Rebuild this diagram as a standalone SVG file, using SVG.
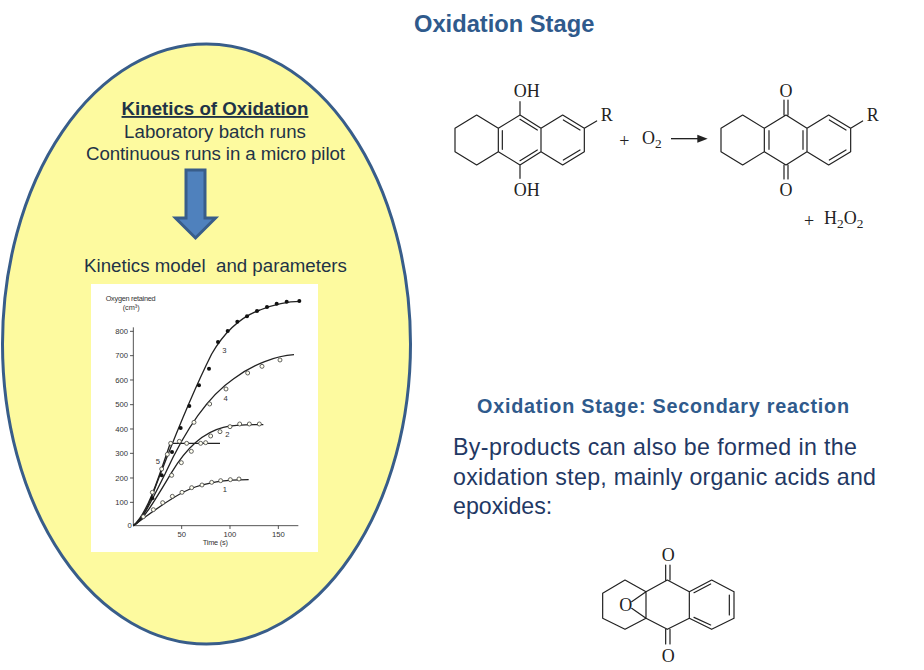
<svg xmlns="http://www.w3.org/2000/svg" width="924" height="670" viewBox="0 0 924 670">
<style>
text{font-family:"Liberation Sans",Arial,sans-serif}
.t{fill:#1f3347;font-size:18.700px;text-anchor:middle}
.h{fill:#2f5a8c;font-weight:bold}
.p text{fill:#1f3864;font-size:23.200px}
.b{fill:none;stroke:#222;stroke-width:3.6;stroke-linejoin:round;stroke-linecap:round}
.c text{font-family:"Liberation Serif","Times New Roman",serif;fill:#222;font-size:54px}
.c .m{text-anchor:middle}
.c .s{font-size:40px}
.cv{fill:none;stroke:#222;stroke-width:4}
.ax{fill:none;stroke:#333;stroke-width:2.5}
.o{fill:#fffff0;stroke:#444;stroke-width:2.5}
.f{fill:#111}
.g text{font-size:23px;fill:#333;text-anchor:end}
.n text{font-size:23px;fill:#333;text-anchor:middle}
.gl{font-size:22px;fill:#333}
</style>
<rect width="924" height="670" fill="#fff"/>
<text class="h" x="414" y="32" font-size="23.700">Oxidation Stage</text>
<g id="ellipse"><ellipse cx="206.500" cy="344" rx="204" ry="300" fill="#fdfa9f" stroke="#385d8a" stroke-width="3"/></g>
<g id="left-text">
<text class="t" x="215" y="115" font-weight="bold" text-decoration="underline">Kinetics of Oxidation</text>
<text class="t" x="215" y="138">Laboratory batch runs</text>
<text class="t" x="215.500" y="160" textLength="259">Continuous runs in a micro pilot</text>
<text class="t" x="215.500" y="272">Kinetics model&#160; and parameters</text>
</g>
<g id="down-arrow"><path d="M186 170H205V218H215.500L195.500 238L175.500 218H186Z" fill="#4f81bd" stroke="#385d8a" stroke-width="3"/></g>
<g id="chart" transform="translate(90 284) scale(.33333)">
<rect x="3" y="0" width="681" height="804" fill="#fff"/>
<path class="ax" d="M130 725V130M130 725H625M120 142H130M120 215H130M120 288H130M120 362H130M120 435H130M120 508H130M120 582H130M120 655H130M275 725V735M420 725V735M565 725V735"/>
<path class="cv" d="M130 725C170 700 190 620 215 560C250 470 300 340 365 210C400 150 450 100 510 78C550 62 590 52 630 52"/>
<path class="cv" d="M130 725C160 705 190 640 225 570C280 450 350 340 430 285C490 240 560 215 612 212"/>
<path class="cv" d="M130 725C160 710 200 640 245 565C290 490 340 445 400 430C440 420 480 422 520 422"/>
<path class="cv" d="M130 725C170 690 200 600 240 480L245 478H390"/>
<path class="cv" d="M130 725C180 690 240 640 300 615C350 595 420 587 476 587"/>
<g class="f"><circle cx="187" cy="643" r="6"/><circle cx="215" cy="574" r="6"/><circle cx="246" cy="504" r="6"/><circle cx="272" cy="432" r="6"/><circle cx="298" cy="366" r="6"/><circle cx="327" cy="304" r="6"/><circle cx="357" cy="254" r="6"/><circle cx="384" cy="174" r="6"/><circle cx="413" cy="141" r="6"/><circle cx="442" cy="113" r="6"/><circle cx="471" cy="97" r="6"/><circle cx="501" cy="81" r="6"/><circle cx="531" cy="69" r="6"/><circle cx="560" cy="59" r="6"/><circle cx="590" cy="53" r="6"/><circle cx="628" cy="51" r="6"/></g>
<g class="o"><circle cx="312" cy="415" r="6"/><circle cx="359" cy="360" r="6"/><circle cx="408" cy="315" r="6"/><circle cx="473" cy="267" r="6"/><circle cx="516" cy="247" r="6"/><circle cx="570" cy="228" r="6"/><circle cx="245" cy="574" r="6"/><circle cx="274" cy="536" r="6"/><circle cx="304" cy="502" r="6"/><circle cx="362" cy="456" r="6"/><circle cx="390" cy="443" r="6"/><circle cx="420" cy="428" r="6"/><circle cx="449" cy="420" r="6"/><circle cx="478" cy="420" r="6"/><circle cx="508" cy="420" r="6"/><circle cx="187" cy="625" r="6"/><circle cx="215" cy="555" r="6"/><circle cx="232" cy="511" r="6"/><circle cx="242" cy="478" r="6"/><circle cx="268" cy="472" r="6"/><circle cx="290" cy="478" r="6"/><circle cx="332" cy="478" r="6"/><circle cx="347" cy="476" r="6"/><circle cx="160" cy="698" r="6"/><circle cx="190" cy="677" r="6"/><circle cx="218" cy="656" r="6"/><circle cx="247" cy="637" r="6"/><circle cx="276" cy="625" r="6"/><circle cx="305" cy="611" r="6"/><circle cx="336" cy="603" r="6"/><circle cx="365" cy="595" r="6"/><circle cx="392" cy="590" r="6"/><circle cx="421" cy="587" r="6"/><circle cx="447" cy="585" r="6"/></g>
<g class="g"><text x="114" y="150">800</text><text x="114" y="223">700</text><text x="114" y="296">600</text><text x="114" y="370">500</text><text x="114" y="443">400</text><text x="114" y="516">300</text><text x="114" y="590">200</text><text x="114" y="663">100</text><text x="125" y="733">0</text></g>
<g class="n"><text x="275" y="760">50</text><text x="420" y="760">100</text><text x="565" y="760">150</text></g>
<text class="gl" x="47" y="52" textLength="150">Oxygen retained</text>
<text class="gl" x="98" y="78">(cm³)</text>
<text class="gl" x="338" y="784" textLength="76">Time (s)</text>
<g class="n"><text x="403" y="207">3</text><text x="407" y="350">4</text><text x="412" y="459">2</text><text x="204" y="540">5</text><text x="405" y="625">1</text></g>
</g>
<g id="hydroquinone" transform="translate(440 70) scale(.33333)">
<path class="b" d="M110 135L45 175V245L110 285L175 245V175ZM175 175L240 135L303 175V245L240 285L175 245M303 175L368 135L433 175V245L368 285L303 245M187 182V238M240 148L292 180M292 240L240 272M370 150L420 180M420 240L370 270M240 95V135M240 285V325M433 175L470 153"/>
<g class="c"><text class="m" x="260" y="80">OH</text><text class="m" x="260" y="377">OH</text><text x="482" y="153">R</text><text x="538" y="232">+</text><text x="606" y="222">O<tspan class="s" dy="12">2</tspan></text></g>
</g>
<g id="anthraquinone" transform="translate(660 70) scale(.33333)">
<path class="b" d="M248 135L183 175V245L248 285L313 245V175ZM313 175L378 135L441 175V245L378 285L313 245M441 175L506 135L572 175V245L506 285L441 245M327 182V238M429 182V238M508 150L558 180M558 240L508 270M372 90V135M384 90V135M372 285V327M384 285V327M572 175L608 153"/>
<path d="M33 206H115" fill="none" stroke="#222" stroke-width="4"/><path d="M112 194L143 206L112 218Z" fill="#222"/>
<g class="c"><text class="m" x="378" y="80">O</text><text class="m" x="378" y="377">O</text><text x="620" y="153">R</text><text x="432" y="470">+</text><text x="492" y="462">H<tspan class="s" dy="12">2</tspan><tspan dy="-12">O</tspan><tspan class="s" dy="12">2</tspan></text></g>
</g>
<text class="h" x="477" y="413" font-size="19.800" textLength="372">Oxidation Stage: Secondary reaction</text>
<g id="paragraph" class="p">
<text x="453" y="455" textLength="404">By-products can also be formed in the</text>
<text x="453" y="485" textLength="423">oxidation step, mainly organic acids and</text>
<text x="453" y="514">epoxides:</text>
</g>
<g id="epoxide" transform="translate(590 540) scale(.33333)">
<path class="b" d="M105 120L38 160V235L105 268L168 235V155ZM168 155L232 120L298 155V235L232 268L168 235M298 155L365 120L432 155V235L365 268L298 235M312 158L362 132M312 232L362 255M418 165V225M432 155V235M227 75V120M240 75V120M227 268V312M240 268V312M125 185L168 155M125 205L168 235"/>
<g class="c"><text class="m" x="235" y="63">O</text><text class="m" x="235" y="365">O</text><text class="m" x="107" y="213">O</text></g>
</g>
</svg>
